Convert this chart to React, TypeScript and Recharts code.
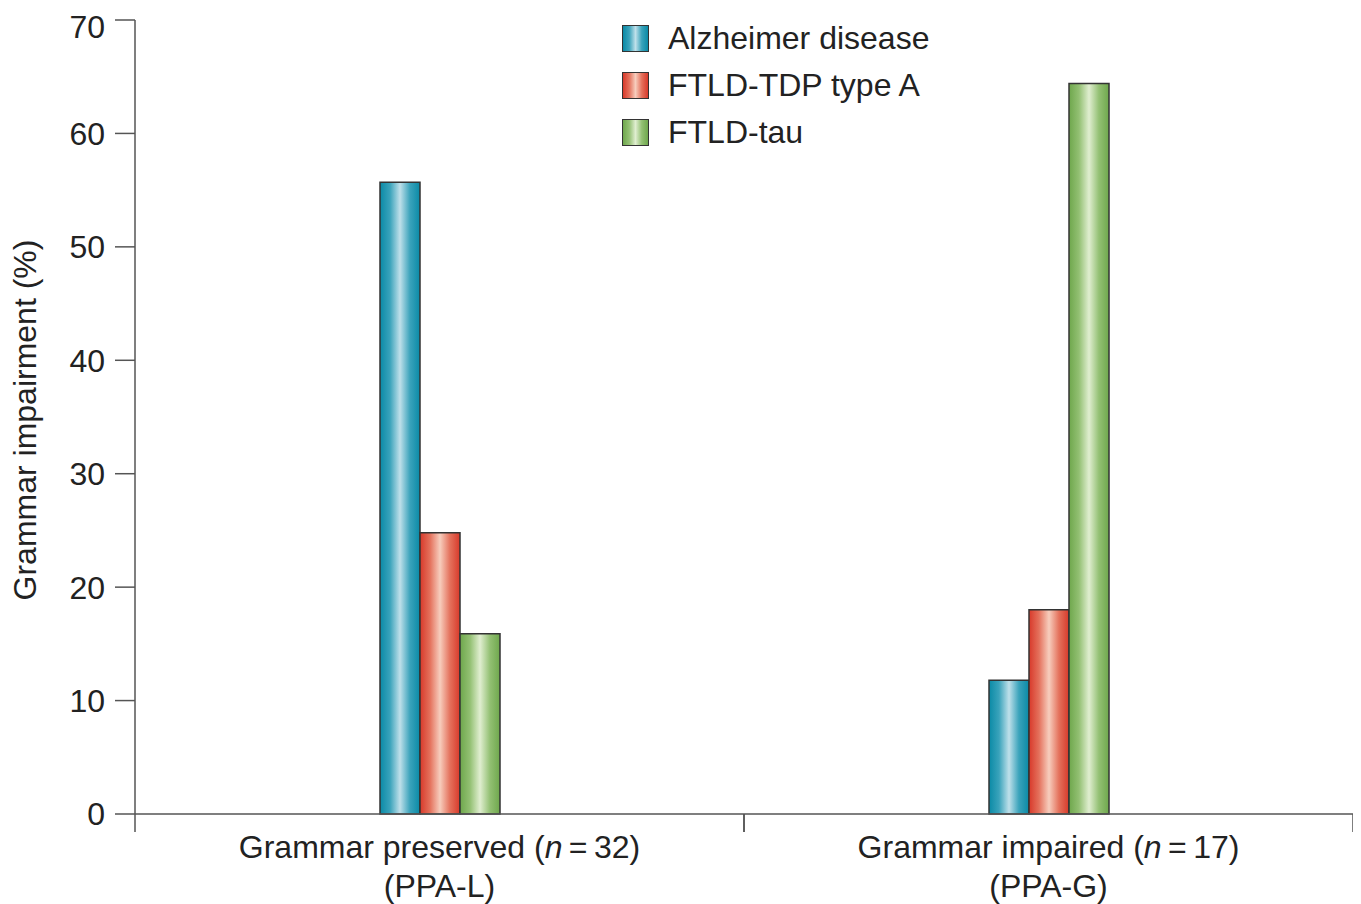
import React from 'react';
import { BarChart, Bar, XAxis, YAxis, Legend, Label } from 'recharts';

const categories = ['Grammar preserved', 'Grammar impaired'];
const nValues = [32, 17];
const subLabels = ['(PPA-L)', '(PPA-G)'];
const alzheimer = [55.7, 11.8];
const tdpA = [24.8, 18.0];
const tau = [15.9, 64.4];
const yTicks = [0, 10, 20, 30, 40, 50, 60, 70];

const seriesNames = ['Alzheimer disease', 'FTLD-TDP type A', 'FTLD-tau'];
const seriesKeys = ['ad', 'tdp', 'tau'];
const gradients = [
  { id: 'gAD', dark: '#0a8aa6', mid: '#3aa3bb', light: '#bfe0ea' },
  { id: 'gTDP', dark: '#d8392a', mid: '#e4715c', light: '#f7cdbd' },
  { id: 'gTAU', dark: '#6ea74c', mid: '#93c073', light: '#e0eed0' },
];

const data = categories.map((c, i) => ({
  name: c,
  n: nValues[i],
  sub: subLabels[i],
  ad: alzheimer[i],
  tdp: tdpA[i],
  tau: tau[i],
}));

const FONT = '"Liberation Sans", Arial, sans-serif';
const AXIS = '#555';
const FS = 32;

const CatTick = (props: any) => {
  const { x, y, index, width, visibleTicksCount } = props;
  const d = data[index];
  const band = width / (visibleTicksCount || data.length);
  return (
    <g>
      <line x1={x - band / 2} x2={x - band / 2} y1={y} y2={y + 18} stroke={AXIS} strokeWidth={1.5} />
      <line x1={x + band / 2} x2={x + band / 2} y1={y} y2={y + 18} stroke={AXIS} strokeWidth={1.5} />
      <text x={x} y={y + 44} textAnchor="middle" fontSize={FS} fill="#222" fontFamily={FONT}>
        {d.name + ' ('}
        <tspan fontStyle="italic">n</tspan>
        {'\u2009=\u2009' + d.n + ')'}
      </text>
      <text x={x} y={y + 83} textAnchor="middle" fontSize={FS} fill="#222" fontFamily={FONT}>
        {d.sub}
      </text>
    </g>
  );
};

const cssGrad = (g: any) =>
  `linear-gradient(to right, ${g.dark} 0%, ${g.mid} 25%, ${g.light} 50%, ${g.mid} 75%, ${g.dark} 100%)`;

const LegendContent = () => (
  <div style={{ fontFamily: FONT, fontSize: FS, color: '#222' }}>
    {seriesNames.map((s, i) => (
      <div key={s} style={{ display: 'flex', alignItems: 'center', height: 47 }}>
        <div
          style={{
            width: 25,
            height: 25,
            border: '1.5px solid #333',
            background: cssGrad(gradients[i]),
            marginRight: 19,
          }}
        />
        <span>{s}</span>
      </div>
    ))}
  </div>
);

export default function App() {
  return (
    <BarChart
      width={1353}
      height={896}
      data={data}
      margin={{ top: 12, right: 8, left: 0, bottom: 0 }}
      barSize={40}
      barGap={0}
    >
      <defs>
        {gradients.map((g) => (
          <linearGradient key={g.id} id={g.id} x1="0" y1="0" x2="1" y2="0">
            <stop offset="0%" stopColor={g.dark} />
            <stop offset="25%" stopColor={g.mid} />
            <stop offset="50%" stopColor={g.light} />
            <stop offset="75%" stopColor={g.mid} />
            <stop offset="100%" stopColor={g.dark} />
          </linearGradient>
        ))}
      </defs>
      <XAxis
        dataKey="name"
        height={90}
        tickLine={false}
        tickSize={0}
        tickMargin={0}
        axisLine={{ stroke: AXIS, strokeWidth: 1.5 }}
        tick={<CatTick />}
        interval={0}
      />
      <YAxis
        width={127}
        domain={[0, 70]}
        ticks={yTicks}
        tickSize={20}
        tickMargin={10}
        axisLine={{ stroke: AXIS, strokeWidth: 1.5 }}
        tickLine={{ stroke: AXIS, strokeWidth: 1.5 }}
        tick={{ fontSize: FS, fill: '#222', fontFamily: FONT }}
      >
        <Label
          content={() => (
            <text
              x={17}
              y={412}
              transform="rotate(-90 17 412)"
              textAnchor="middle"
              dominantBaseline="central"
              fontSize={FS}
              fill="#222"
              fontFamily={FONT}
            >
              Grammar impairment (%)
            </text>
          )}
        />
      </YAxis>
      <Legend
        layout="vertical"
        align="center"
        verticalAlign="middle"
        content={<LegendContent />}
        wrapperStyle={{ left: 614, top: 7, width: 400, right: 'auto', bottom: 'auto' }}
      />
      {seriesKeys.map((k, i) => (
        <Bar
          key={k}
          dataKey={k}
          name={seriesNames[i]}
          fill={`url(#${gradients[i].id})`}
          stroke="#333"
          strokeWidth={1.5}
          isAnimationActive={false}
        />
      ))}
    </BarChart>
  );
}
